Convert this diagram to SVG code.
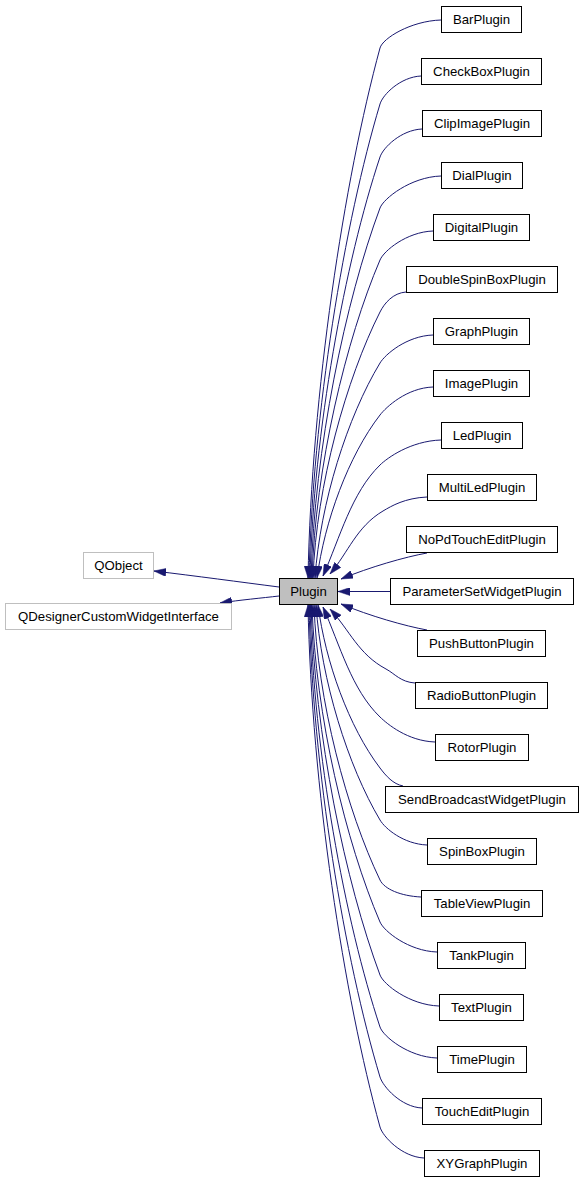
<svg xmlns="http://www.w3.org/2000/svg" width="583" height="1183" viewBox="0 0 583 1183">
<style>
.n rect{fill:#ffffff;stroke:#000000;stroke-width:1}
.g rect{fill:#ffffff;stroke:#bfbfbf;stroke-width:1}
.m rect{fill:#bfbfbf;stroke:#000000;stroke-width:1}
text{font-family:"Liberation Sans",Arial,Helvetica,sans-serif;font-size:13.2px;fill:#000000;text-anchor:middle}
.e path{fill:none;stroke:#191970;stroke-width:1;marker-end:url(#ah)}
</style>
<defs>
<marker id="ah" markerUnits="userSpaceOnUse" viewBox="0 0 12 8" refX="12" refY="4" markerWidth="12" markerHeight="8" orient="auto">
<path d="M0,0 L12,4 L0,8 z" fill="#191970" stroke="#191970" stroke-width="0.5"/>
</marker>
</defs>
<rect x="0" y="0" width="583" height="1183" fill="#ffffff"/>
<g id="edges" class="e">
<path d="M279,587 C240,582 196,576 154,571"/>
<path d="M279,596 C262,598 240,600 220,603"/>
<path d="M441,20 C410.5,21 382.6,38.4 380,48 C344,180.5 311.6,392.5 308,578"/>
<path d="M421,76 C400.5,77 382.9,94.4 380,104 C344.5,222.5 312.6,412.1 309,578"/>
<path d="M422,129 C401,130 383.2,147.5 380,157 C345,262.3 313.5,430.6 310,578"/>
<path d="M441,176 C410.5,177 383.5,198.6 380,208 C345.5,300.5 314.5,448.5 311,578"/>
<path d="M433,231 C406.5,232 383.9,250.8 380,260 C346,339.5 315.4,466.7 312,578"/>
<path d="M406,292 C393,293 384.5,303.1 380,312 C346.5,378.5 316.4,484.9 313,578"/>
<path d="M433,335 C406.5,336 385.2,354.4 380,363 C347.5,416.75 320.2,502.75 315,578"/>
<path d="M433,387 C406.5,388 386.1,407.1 380,415 C348.5,455.75 324.6,521 317,578"/>
<path d="M441,440 C410.5,441 387.2,458 380,465 C351.5,492.75 340.1,537.2 323,576"/>
<path d="M427,497 C405,498 391.6,505.9 383,511 C356.5,526.75 348.5,552 330,574"/>
<path d="M427,553 C405,557 370,567 341,579"/>
<path d="M390,591.5 L338,591.5"/>
<path d="M427,630 C405,626 370,616 341,604"/>
<path d="M415,683 C400.5,682 394.8,673.7 386,669 C358,654 349.6,630 330,609"/>
<path d="M435,742 C407.5,741 387.2,723.9 380,717 C351.5,689.5 340.1,645.5 323,607"/>
<path d="M403,786 C393,784 386.1,776 380,768 C349,727.25 325.4,662 318,605"/>
<path d="M427,845 C403.5,844 385.1,828.6 380,820 C348,766.25 321.1,680.25 316,605"/>
<path d="M421,897 C400.5,896 384.3,889 380,880 C347,811.25 317.3,701.25 314,605"/>
<path d="M437,952 C408.5,951 383.9,931.2 380,922 C346,842.75 315.4,715.95 312,605"/>
<path d="M439,1006 C409.5,1005 383.5,984.4 380,975 C345.5,882.5 314.5,734.5 311,605"/>
<path d="M437,1058 C408.5,1057 383.2,1036.5 380,1027 C345,921.5 313.5,752.7 310,605"/>
<path d="M422,1108 C401,1107 382.9,1086.6 380,1077 C344.5,959 312.6,770.2 309,605"/>
<path d="M424,1158 C402,1157 382.7,1136.6 380,1127 C344,996.5 311.6,787.7 308,605"/>
</g>
<g id="QObject" class="g"><rect x="83.5" y="552.5" width="70" height="26"/><text x="118.5" y="569.5">QObject</text></g>
<g id="QDesignerCustomWidgetInterface" class="g"><rect x="5.5" y="603.5" width="226" height="26"/><text x="118.5" y="620.5">QDesignerCustomWidgetInterface</text></g>
<g id="Plugin" class="m"><rect x="279.5" y="578.5" width="58" height="26"/><text x="308.5" y="595.5">Plugin</text></g>
<g id="BarPlugin" class="n"><rect x="441.5" y="6.5" width="80" height="26"/><text x="481.5" y="23.5">BarPlugin</text></g>
<g id="CheckBoxPlugin" class="n"><rect x="421.5" y="58.5" width="120" height="26"/><text x="481.5" y="75.5">CheckBoxPlugin</text></g>
<g id="ClipImagePlugin" class="n"><rect x="422.5" y="110.5" width="119" height="26"/><text x="482" y="127.5">ClipImagePlugin</text></g>
<g id="DialPlugin" class="n"><rect x="441.5" y="162.5" width="81" height="26"/><text x="482" y="179.5">DialPlugin</text></g>
<g id="DigitalPlugin" class="n"><rect x="433.5" y="214.5" width="96" height="26"/><text x="481.5" y="231.5">DigitalPlugin</text></g>
<g id="DoubleSpinBoxPlugin" class="n"><rect x="406.5" y="266.5" width="151" height="26"/><text x="482" y="283.5">DoubleSpinBoxPlugin</text></g>
<g id="GraphPlugin" class="n"><rect x="433.5" y="318.5" width="96" height="26"/><text x="481.5" y="335.5">GraphPlugin</text></g>
<g id="ImagePlugin" class="n"><rect x="433.5" y="370.5" width="96" height="26"/><text x="481.5" y="387.5">ImagePlugin</text></g>
<g id="LedPlugin" class="n"><rect x="441.5" y="422.5" width="81" height="26"/><text x="482" y="439.5">LedPlugin</text></g>
<g id="MultiLedPlugin" class="n"><rect x="427.5" y="474.5" width="109" height="26"/><text x="482" y="491.5">MultiLedPlugin</text></g>
<g id="NoPdTouchEditPlugin" class="n"><rect x="406.5" y="526.5" width="151" height="26"/><text x="482" y="543.5">NoPdTouchEditPlugin</text></g>
<g id="ParameterSetWidgetPlugin" class="n"><rect x="390.5" y="578.5" width="183" height="26"/><text x="482" y="595.5">ParameterSetWidgetPlugin</text></g>
<g id="PushButtonPlugin" class="n"><rect x="417.5" y="630.5" width="128" height="26"/><text x="481.5" y="647.5">PushButtonPlugin</text></g>
<g id="RadioButtonPlugin" class="n"><rect x="415.5" y="682.5" width="132" height="26"/><text x="481.5" y="699.5">RadioButtonPlugin</text></g>
<g id="RotorPlugin" class="n"><rect x="435.5" y="734.5" width="93" height="26"/><text x="482" y="751.5">RotorPlugin</text></g>
<g id="SendBroadcastWidgetPlugin" class="n"><rect x="385.5" y="786.5" width="193" height="26"/><text x="482" y="803.5">SendBroadcastWidgetPlugin</text></g>
<g id="SpinBoxPlugin" class="n"><rect x="427.5" y="838.5" width="109" height="26"/><text x="482" y="855.5">SpinBoxPlugin</text></g>
<g id="TableViewPlugin" class="n"><rect x="421.5" y="890.5" width="121" height="26"/><text x="482" y="907.5">TableViewPlugin</text></g>
<g id="TankPlugin" class="n"><rect x="437.5" y="942.5" width="88" height="26"/><text x="481.5" y="959.5">TankPlugin</text></g>
<g id="TextPlugin" class="n"><rect x="439.5" y="994.5" width="84" height="26"/><text x="481.5" y="1011.5">TextPlugin</text></g>
<g id="TimePlugin" class="n"><rect x="437.5" y="1046.5" width="89" height="26"/><text x="482" y="1063.5">TimePlugin</text></g>
<g id="TouchEditPlugin" class="n"><rect x="422.5" y="1098.5" width="119" height="26"/><text x="482" y="1115.5">TouchEditPlugin</text></g>
<g id="XYGraphPlugin" class="n"><rect x="424.5" y="1150.5" width="115" height="26"/><text x="482" y="1167.5">XYGraphPlugin</text></g>
</svg>
